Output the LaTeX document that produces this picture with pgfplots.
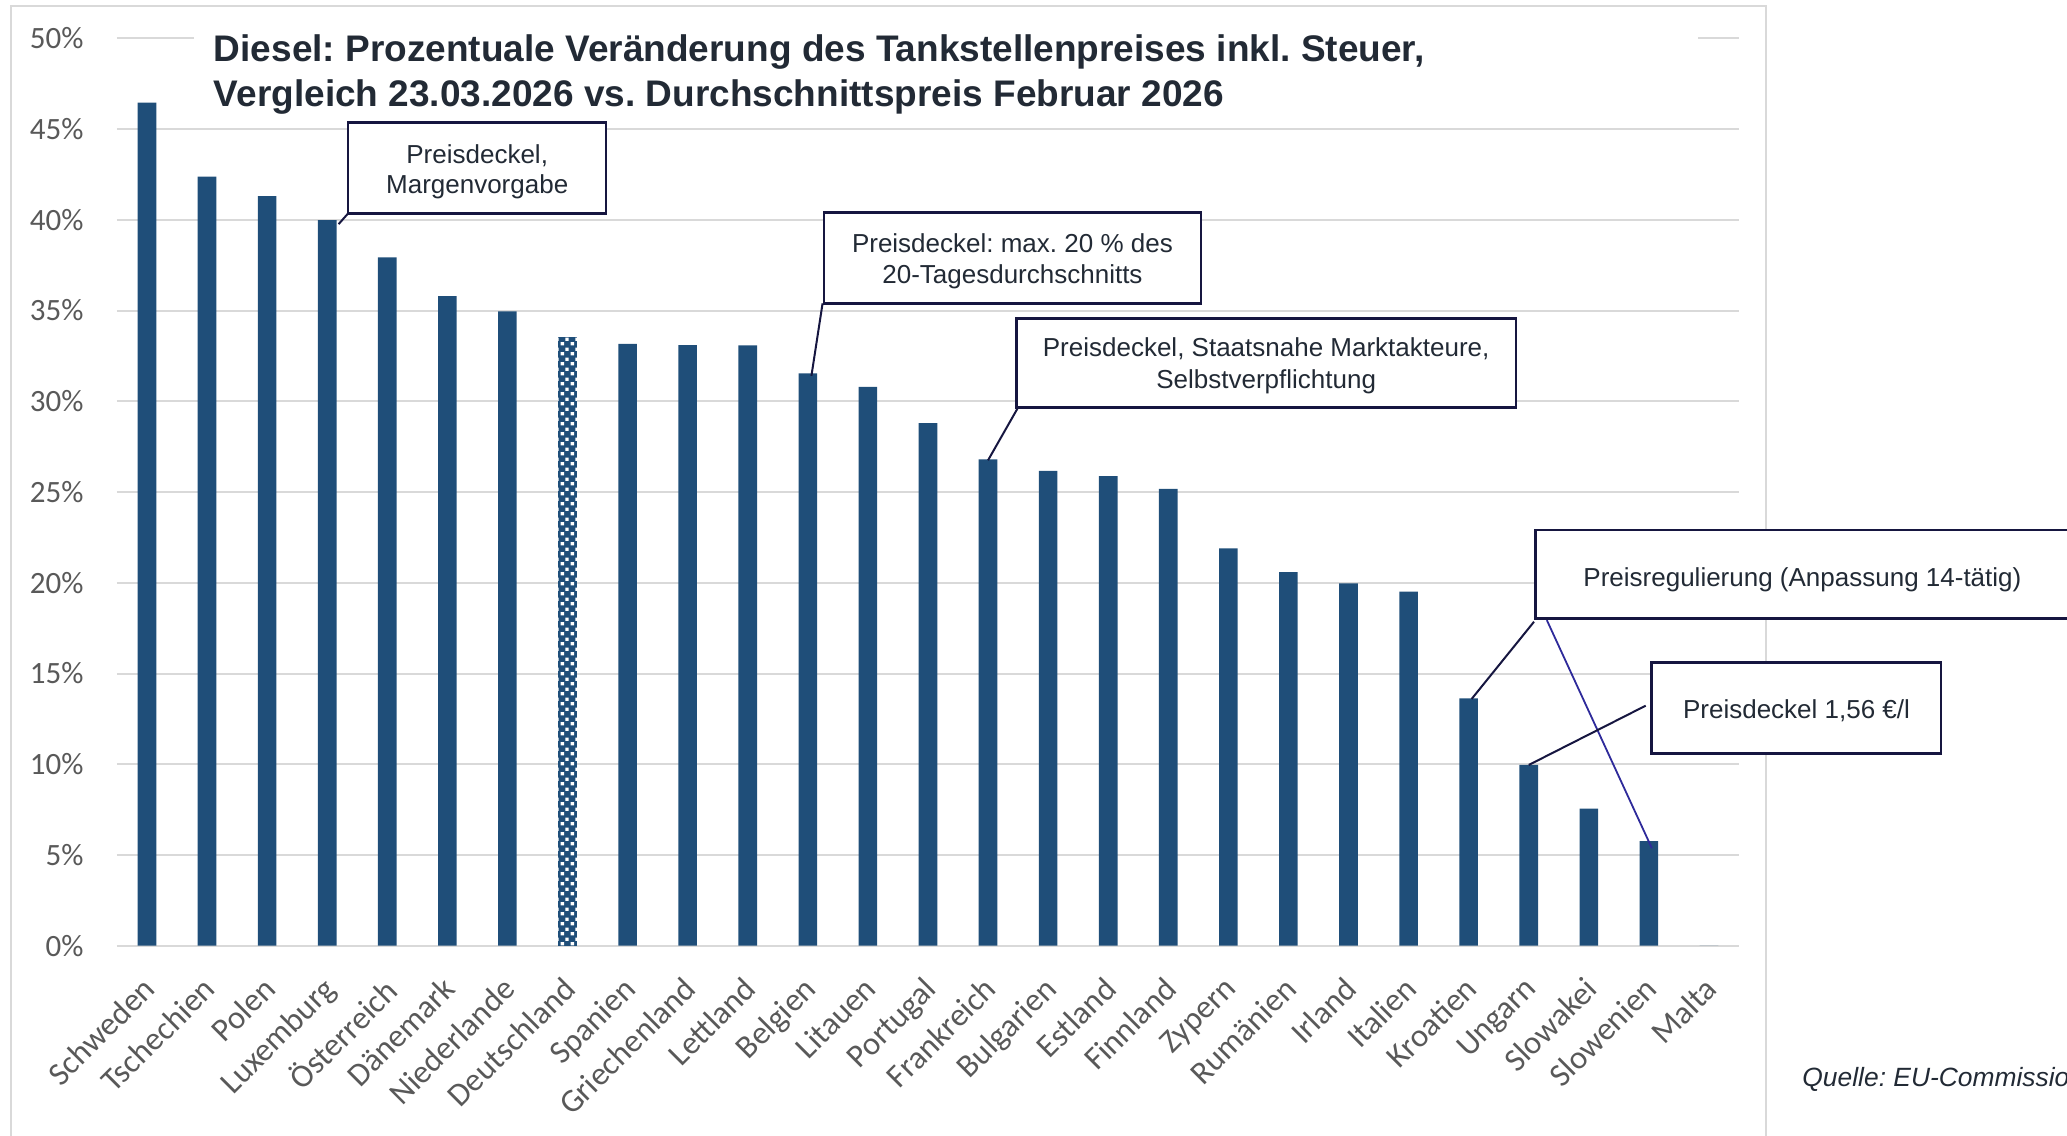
\documentclass[border=0pt]{standalone}
\usepackage{fontspec}
\setmainfont{Carlito}
\newfontfamily\arial{Liberation Sans}
\usepackage{pgfplots}
\pgfplotsset{compat=1.18}
\usetikzlibrary{patterns}
\definecolor{barblue}{HTML}{1F4E79}
\definecolor{gridgray}{HTML}{D9D9D9}
\definecolor{tickgray}{HTML}{595959}
\definecolor{txtdark}{HTML}{222A35}
\definecolor{boxnavy}{HTML}{161640}
\definecolor{leadblue}{HTML}{2E2A9A}
\definecolor{framegray}{HTML}{D9D9D9}
\pgfdeclarepatternformonly{whitechecks}{\pgfpointorigin}{\pgfqpoint{5bp}{5bp}}{\pgfqpoint{5bp}{5bp}}{%
  \pgfpathrectangle{\pgfqpoint{0.35bp}{0.35bp}}{\pgfqpoint{1.8bp}{1.8bp}}%
  \pgfpathrectangle{\pgfqpoint{2.85bp}{2.85bp}}{\pgfqpoint{1.8bp}{1.8bp}}%
  \pgfusepath{fill}}
\newcommand{\U}{0.6591bp}
\newcommand{\annfont}{\arial\fontsize{13bp}{15.4bp}\selectfont}
\newcommand{\titfont}{\arial\bfseries\fontsize{18.5bp}{22bp}\selectfont}
\frenchspacing
\begin{document}
\frenchspacing
\begin{tikzpicture}
\begin{scope}[x=\U,y=-\U]
\draw[framegray, line width=1bp] (8.7,875) -- (8.7,4.6) -- (1340,4.6) -- (1340,875);
\end{scope}
\begin{axis}[
  at={(58.46bp,-472.84bp)}, anchor=south west,
  width=811bp, height=453.7bp, scale only axis,
  xmin=-0.5, xmax=26.5, ymin=0, ymax=50,
  axis line style={draw=none},
  major tick length=0pt,
  ymajorgrids, grid style={gridgray, line width=1bp},
  ytick={0,5,...,50},
  yticklabels={0\%,5\%,10\%,15\%,20\%,25\%,30\%,35\%,40\%,45\%,50\%},
  xtick={0,...,26},
  xticklabels={Schweden,Tschechien,Polen,Luxemburg,Österreich,Dänemark,Niederlande,Deutschland,Spanien,Griechenland,Lettland,Belgien,Litauen,Portugal,Frankreich,Bulgarien,Estland,Finnland,Zypern,Rumänien,Irland,Italien,Kroatien,Ungarn,Slowakei,Slowenien,Malta},
  yticklabel style={font=\fontsize{15.5bp}{18bp}\selectfont, text=tickgray, inner sep=0pt, xshift=-16.5bp},
  xticklabel style={font=\fontsize{16.3bp}{18bp}\selectfont, text=tickgray, inner sep=0pt, anchor=north east, xshift=-3bp, yshift=-14.5bp, rotate=45},
  clip=false,
]
\addplot[ybar, bar width=0.31, bar shift=0pt, fill=barblue, draw=none] coordinates {
(0,46.45) (1,42.38) (2,41.31) (3,39.98) (4,37.93) (5,35.80) (6,34.96)
(8,33.16) (9,33.10) (10,33.08) (11,31.54) (12,30.80) (13,28.79) (14,26.80)
(15,26.16) (16,25.87) (17,25.18) (18,21.90) (19,20.58) (20,19.97) (21,19.51)
(22,13.63) (23,9.96) (24,7.55) (25,5.77) (26,0)};
\addplot[ybar, bar width=0.31, bar shift=0pt, fill=barblue, draw=none, postaction={pattern=whitechecks, pattern color=white}] coordinates {(7,33.53)};
\coordinate (p1) at (axis cs:3.19,39.76);
\coordinate (p2) at (axis cs:11.06,31.4);
\coordinate (p3) at (axis cs:14.0,26.75);
\coordinate (p4a) at (axis cs:22.05,13.6);
\coordinate (p4b) at (axis cs:25.05,5.37);
\coordinate (p5) at (axis cs:23.0,9.96);
\end{axis}
\begin{scope}[x=\U,y=-\U]
\fill[white] (147.4,22) rectangle (1288,38);
\node[anchor=base west, font=\titfont, text=txtdark, inner sep=0pt] at (162,46.8) {Diesel: Prozentuale Veränderung des Tankstellenpreises inkl. Steuer,};
\node[anchor=base west, font=\titfont, text=txtdark, inner sep=0pt] at (162,80.9) {Vergleich 23.03.2026 vs. Durchschnittspreis Februar 2026};
% leaders
\draw[boxnavy, line width=1bp] (265.2,160.6) -- (p1);
\draw[boxnavy, line width=1bp] (624,230.1) -- (p2);
\draw[boxnavy, line width=1bp] (771.9,309.8) -- (p3);
\draw[boxnavy, line width=1bp] (1163.7,471.6) -- (p4a);
\draw[leadblue, line width=0.9bp] (1173.4,470.4) -- (p4b);
\draw[boxnavy, line width=1bp] (1248.4,535.3) -- (p5);
% boxes
\draw[boxnavy, line width=1.3bp, fill=white] (264,93) rectangle (459.6,161.8);
\node[anchor=base, font=\annfont, text=txtdark, inner sep=0pt] at (362,123.9) {Preisdeckel,};
\node[anchor=base, font=\annfont, text=txtdark, inner sep=0pt] at (362,146.7) {Margenvorgabe};
\draw[boxnavy, line width=1.3bp, fill=white] (625,161) rectangle (911,230);
\node[anchor=base, font=\annfont, text=txtdark, inner sep=0pt] at (768,191.7) {Preisdeckel: max. 20 \% des};
\node[anchor=base, font=\annfont, text=txtdark, inner sep=0pt] at (768,215) {20-Tagesdurchschnitts};
\draw[boxnavy, line width=1.3bp, fill=white] (771,241.5) rectangle (1150,309.3);
\node[anchor=base, font=\annfont, text=txtdark, inner sep=0pt] at (960.5,270.6) {Preisdeckel, Staatsnahe Marktakteure,};
\node[anchor=base, font=\annfont, text=txtdark, inner sep=0pt] at (960.5,294.6) {Selbstverpflichtung};
\draw[boxnavy, line width=1.3bp, fill=white] (1164.7,402) rectangle (1570,469);
\node[anchor=base, font=\annfont, text=txtdark, inner sep=0pt] at (1367.3,445) {Preisregulierung (Anpassung 14-tätig)};
\draw[boxnavy, line width=1.3bp, fill=white] (1253,502.5) rectangle (1472.5,571.5);
\node[anchor=base, font=\annfont, text=txtdark, inner sep=0pt] at (1362.8,545) {Preisdeckel 1,56 €/l};
\node[anchor=base west, font=\arial\itshape\fontsize{13.2bp}{16bp}\selectfont, text=txtdark, inner sep=0pt] at (1367,824) {Quelle: EU-Commission};
\end{scope}
\pgfresetboundingbox
\path[use as bounding box] (0,0) rectangle (1568*\U,-861*\U);
\end{tikzpicture}
\end{document}
